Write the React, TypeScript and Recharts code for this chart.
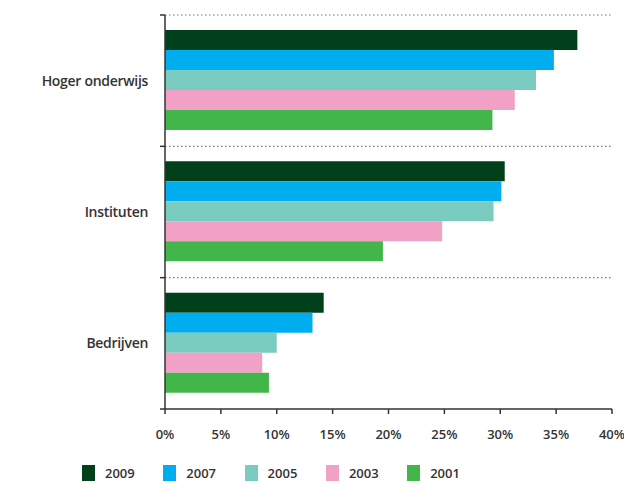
import React from 'react';
import { BarChart, Bar, XAxis, YAxis, CartesianGrid, Legend } from 'recharts';

const categories = ['Hoger onderwijs', 'Instituten', 'Bedrijven'];
const years = ['2009', '2007', '2005', '2003', '2001'];
const values2009 = [36.9, 30.4, 14.2];
const values2007 = [34.8, 30.1, 13.2];
const values2005 = [33.2, 29.4, 10.0];
const values2003 = [31.3, 24.8, 8.7];
const values2001 = [29.3, 19.5, 9.3];
const xTicks = [0, 5, 10, 15, 20, 25, 30, 35, 40];

const colors: Record<string, string> = {
  '2009': '#00401A',
  '2007': '#00AEEF',
  '2005': '#7ACCC0',
  '2003': '#F2A1C6',
  '2001': '#42B649',
};

const seriesValues: Record<string, number[]> = {
  '2009': values2009,
  '2007': values2007,
  '2005': values2005,
  '2003': values2003,
  '2001': values2001,
};

const data = categories.map((name, i) => {
  const row: Record<string, any> = { name };
  years.forEach((y) => {
    row[y] = seriesValues[y][i];
  });
  return row;
});

const FONT = '"Open Sans", sans-serif';
const TEXT = '#333333';

const CatTick = (props: any) => {
  const { x, y, payload, index } = props;
  const half = typeof payload.offset === 'number' ? payload.offset : 0;
  const isLast = index === categories.length - 1;
  return (
    <g>
      <line x1={x + 12} x2={x + 17} y1={y - half} y2={y - half} stroke="#333" strokeWidth={1.5} />
      {isLast && (
        <line x1={x + 12} x2={x + 17} y1={y + half} y2={y + half} stroke="#333" strokeWidth={1.5} />
      )}
      <text
        x={x}
        y={y}
        dy="0.35em"
        textAnchor="end"
        fill={TEXT}
        fontSize={14}
        fontWeight={600}
        letterSpacing={-0.3}
        fontFamily={FONT}
      >
        {payload.value}
      </text>
    </g>
  );
};

// band boundaries of the category axis (band scale without padding)
const gridGenerator = (props: any) => {
  const off = props.offset;
  return categories.map((_, i) => off.top + (i * off.height) / categories.length);
};

const LegendContent = () => (
  <div style={{ position: 'relative', width: 624, height: 44 }}>
    {years.map((y, i) => (
      <div
        key={y}
        style={{
          position: 'absolute',
          left: 82 + i * 81.3,
          top: 26,
          display: 'flex',
          alignItems: 'center',
          height: 16,
        }}
      >
        <div style={{ width: 13, height: 16, background: colors[y] }} />
        <span
          style={{
            marginLeft: 10,
            fontFamily: FONT,
            fontWeight: 600,
            fontSize: 13,
            color: TEXT,
            lineHeight: '16px',
          }}
        >
          {y}
        </span>
      </div>
    ))}
  </div>
);

export default function App() {
  return (
    <div style={{ position: 'absolute', left: 0, top: 0, width: 624, height: 483, background: '#fff', fontFamily: FONT }}>
      <BarChart
        width={624}
        height={483}
        data={data}
        layout="vertical"
        margin={{ top: 15, right: 12, bottom: 0, left: 0 }}
        barCategoryGap={15}
        barGap={0}
      >
        <CartesianGrid
          vertical={false}
          horizontal
          stroke="#777"
          strokeWidth={1.2}
          strokeDasharray="1.5 2.5"
          horizontalCoordinatesGenerator={gridGenerator}
        />
        <XAxis
          type="number"
          domain={[0, 40]}
          ticks={xTicks}
          tickFormatter={(v) => `${v}%`}
          axisLine={{ stroke: '#333', strokeWidth: 1.5 }}
          tickLine={{ stroke: '#333', strokeWidth: 1.5 }}
          tickSize={5}
          tickMargin={16}
          height={30}
          tick={{ fill: TEXT, fontSize: 13, fontWeight: 600, fontFamily: FONT }}
          interval={0}
          allowDataOverflow
        />
        <YAxis
          type="category"
          dataKey="name"
          width={165}
          interval={0}
          axisLine={{ stroke: '#333', strokeWidth: 1.5 }}
          tickLine={false}
          tickSize={5}
          tickMargin={12}
          tick={<CatTick />}
        />
        {years.map((y) => (
          <Bar key={y} dataKey={y} fill={colors[y]} isAnimationActive={false} />
        ))}
        <Legend
          verticalAlign="bottom"
          wrapperStyle={{ left: 0, bottom: 0, width: 624 }}
          content={<LegendContent />}
        />
      </BarChart>
    </div>
  );
}
